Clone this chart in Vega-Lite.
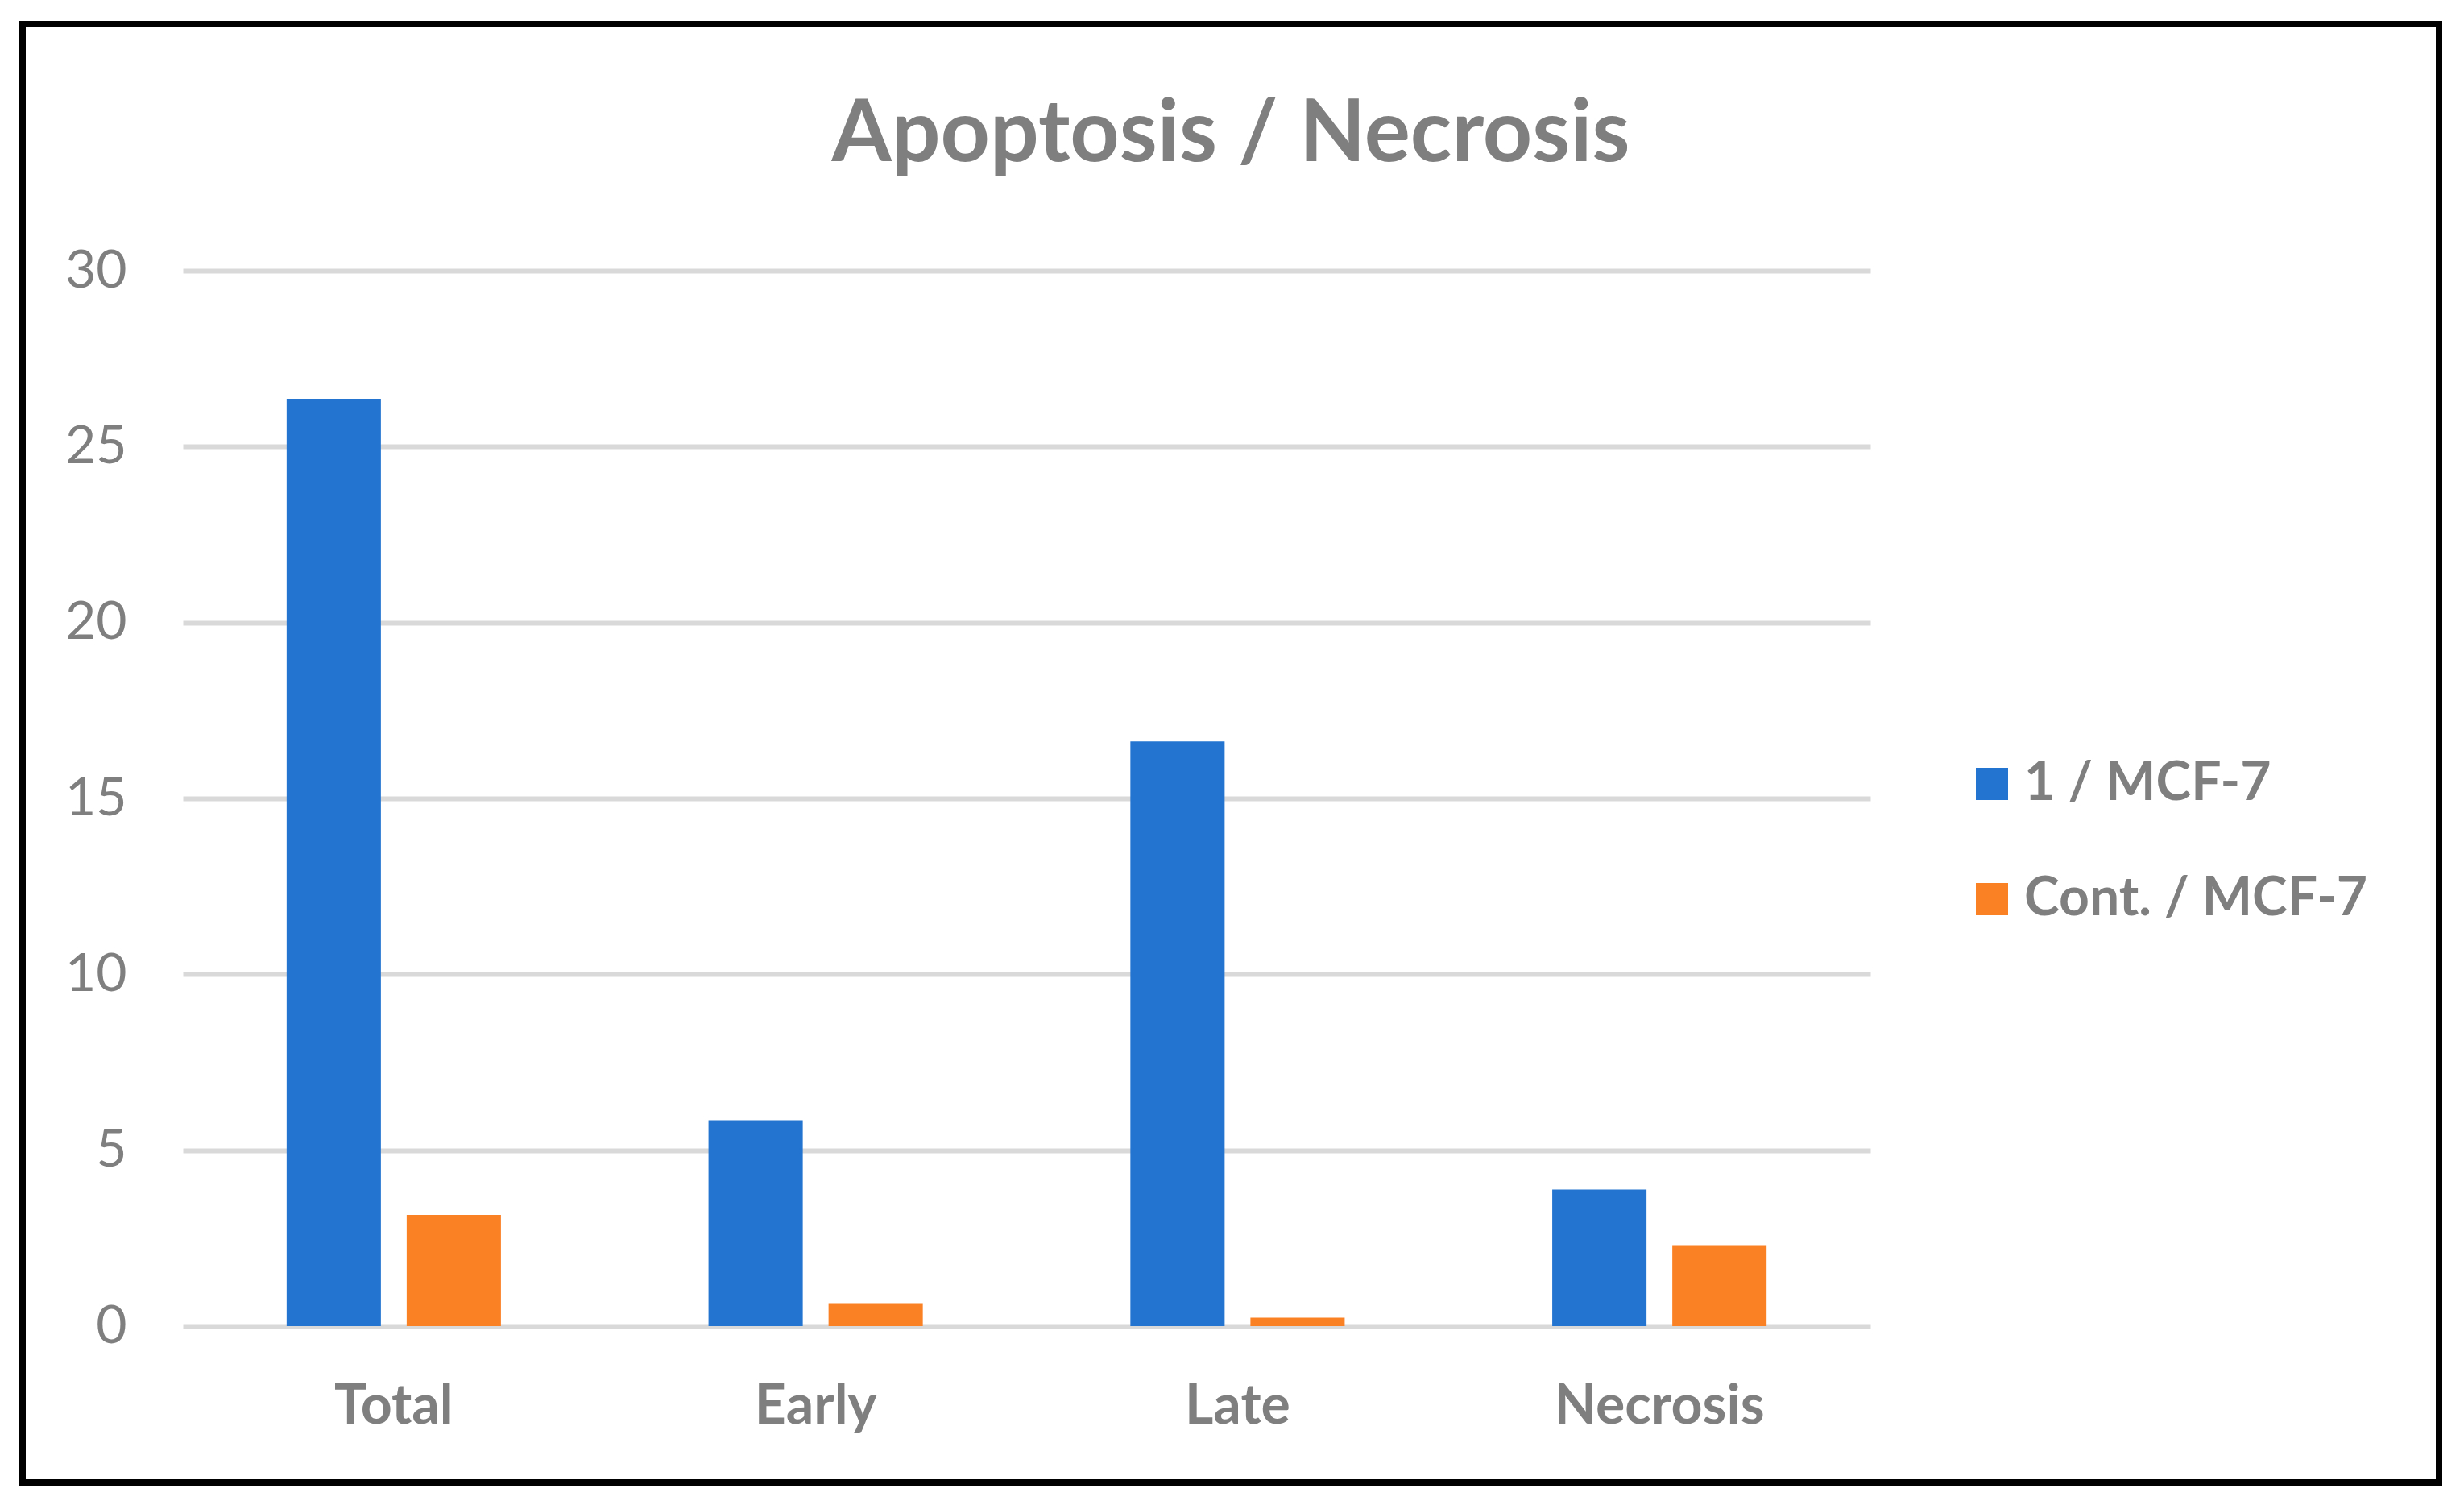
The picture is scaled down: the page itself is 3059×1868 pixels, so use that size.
{
  "$schema": "https://vega.github.io/schema/vega-lite/v6.json",
  "width": 3000,
  "height": 1810,
  "autosize": {"type": "none"},
  "padding": {"left": 28, "top": 30, "right": 31, "bottom": 28},
  "background": "white",
  "title": {
    "text": "Apoptosis / Necrosis",
    "anchor": "middle",
    "frame": "group",
    "orient": "top",
    "offset": -277,
    "baseline": "alphabetic",
    "font": "Lato",
    "fontSize": 107,
    "fontWeight": "bold",
    "color": "#7f7f7f"
  },
  "data": {
    "values": [
      {"category": "Total", "series": "1 / MCF-7", "value": 26.36},
      {"category": "Total", "series": "Cont. / MCF-7", "value": 3.16},
      {"category": "Early", "series": "1 / MCF-7", "value": 5.85},
      {"category": "Early", "series": "Cont. / MCF-7", "value": 0.65},
      {"category": "Late", "series": "1 / MCF-7", "value": 16.62},
      {"category": "Late", "series": "Cont. / MCF-7", "value": 0.24},
      {"category": "Necrosis", "series": "1 / MCF-7", "value": 3.88},
      {"category": "Necrosis", "series": "Cont. / MCF-7", "value": 2.3}
    ]
  },
  "mark": {"type": "bar"},
  "encoding": {
    "x": {
      "field": "category",
      "type": "nominal",
      "sort": ["Total", "Early", "Late", "Necrosis"],
      "scale": {"range": [199, 2294], "paddingInner": 0.492, "paddingOuter": 0.246},
      "axis": {
        "title": null,
        "orient": "bottom",
        "offset": -194,
        "domain": false,
        "ticks": false,
        "tickSize": 0,
        "grid": false,
        "labelPadding": 120,
        "labelBaseline": "alphabetic",
        "labelAngle": 0,
        "labelLimit": 0,
        "labelFont": "Lato",
        "labelFontSize": 68,
        "labelFontWeight": "bold",
        "labelColor": "#7f7f7f"
      }
    },
    "xOffset": {
      "field": "series",
      "type": "nominal",
      "sort": ["1 / MCF-7", "Cont. / MCF-7"],
      "scale": {"paddingInner": 0.2148, "paddingOuter": 0}
    },
    "y": {
      "field": "value",
      "type": "quantitative",
      "scale": {"domain": [0, 30], "range": [1616, 306], "nice": false, "zero": true},
      "axis": {
        "title": null,
        "values": [0, 5, 10, 15, 20, 25, 30],
        "offset": -129,
        "labelPadding": 0,
        "domain": false,
        "ticks": false,
        "tickSize": 0,
        "grid": true,
        "gridColor": "#d9d9d9",
        "gridWidth": 6,
        "labelLimit": 0,
        "labelFont": "Lato",
        "labelFontSize": 66,
        "labelColor": "#7f7f7f"
      }
    },
    "color": {
      "field": "series",
      "type": "nominal",
      "sort": ["1 / MCF-7", "Cont. / MCF-7"],
      "scale": {"range": ["#2274d0", "#fb8125"]},
      "legend": {
        "title": null,
        "orient": "none",
        "legendX": 2412,
        "legendY": 910,
        "padding": 0,
        "symbolType": "square",
        "symbolSize": 1600,
        "symbolStrokeWidth": 0,
        "labelLimit": 0,
        "labelFont": "Lato",
        "labelFontSize": 66,
        "labelFontWeight": "bold",
        "labelColor": "#7f7f7f",
        "labelOffset": 7,
        "rowPadding": 77
      }
    }
  },
  "config": {"view": {"stroke": "black", "strokeWidth": 8}}
}
